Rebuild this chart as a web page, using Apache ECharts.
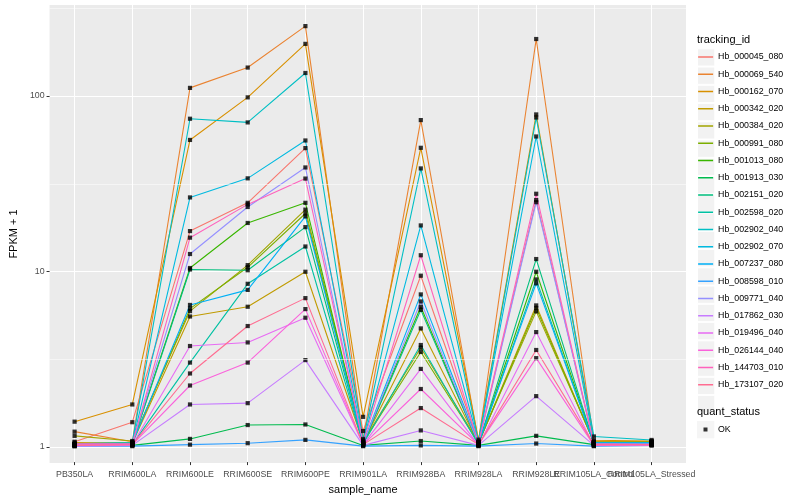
<!DOCTYPE html>
<html><head><meta charset="utf-8">
<script src="https://cdn.jsdelivr.net/npm/echarts@6/dist/echarts.min.js"></script>
<style>html,body{margin:0;padding:0;background:#fff}#c{width:800px;height:500px}</style>
</head><body><div id="c"></div>
<script>
// ---- data ----
const categories = ['PB350LA','RRIM600LA','RRIM600LE','RRIM600SE','RRIM600PE','RRIM901LA','RRIM928BA','RRIM928LA','RRIM928LE','RRIM105LA_Control','RRIM105LA_Stressed'];
const trackingIds = ['Hb_000045_080','Hb_000069_540','Hb_000162_070','Hb_000342_020','Hb_000384_020','Hb_000991_080','Hb_001013_080','Hb_001913_030','Hb_002151_020','Hb_002598_020','Hb_002902_040','Hb_002902_070','Hb_007237_080','Hb_008598_010','Hb_009771_040','Hb_017862_030','Hb_019496_040','Hb_026144_040','Hb_144703_010','Hb_173107_020'];
const colors = ['#F8766D','#EA8331','#D89000','#C09B00','#A3A500','#7CAE00','#39B600','#00BB4E','#00BF7D','#00C1A3','#00BFC4','#00BAE0','#00B0F6','#35A2FF','#9590FF','#C77CFF','#E76BF3','#FA62DB','#FF62BC','#FF6C91'];

const v_000045_080 = [1.06, 1.37, 16.9, 24.5, 50.3, 1.22, 9.4, 1.05, 25.4, 1.04, 1.03];
const v_000069_540 = [1.21, 1.06, 111, 145, 250, 1.10, 72.7, 1.06, 211, 1.06, 1.06];
const v_000162_070 = [1.38, 1.73, 56, 98, 198, 1.47, 50.5, 1.09, 78.3, 1.08, 1.07];
const v_000342_020 = [1.05, 1.04, 5.5, 6.25, 9.9, 1.05, 4.7, 1.04, 6.36, 1.05, 1.06];
const v_000384_020 = [1.145, 1.07, 5.9, 10.8, 22.4, 1.06, 3.65, 1.05, 5.88, 1.06, 1.06];
const v_000991_080 = [1.03, 1.05, 6.1, 10.5, 21.3, 1.05, 3.45, 1.04, 6.15, 1.05, 1.05];
const v_001013_080 = [1.02, 1.04, 10.4, 18.8, 24.5, 1.04, 6.25, 1.03, 9.9, 1.04, 1.05];
const v_001913_030 = [1.01, 1.01, 1.10, 1.32, 1.33, 1.01, 1.07, 1.01, 1.145, 1.02, 1.03];
const v_002151_020 = [1.02, 1.03, 10.2, 10.1, 17.8, 1.03, 6.0, 1.03, 11.7, 1.04, 1.04];
const v_002598_020 = [1.02, 1.02, 3.0, 8.45, 13.8, 1.03, 3.78, 1.02, 8.95, 1.03, 1.04];
const v_002902_040 = [1.03, 1.05, 74, 70.5, 135, 1.08, 38.5, 1.06, 75.2, 1.136, 1.085];
const v_002902_070 = [1.02, 1.04, 26.3, 33.8, 55.6, 1.06, 18.2, 1.05, 58.6, 1.05, 1.05];
const v_007237_080 = [1.02, 1.04, 6.4, 7.8, 20.5, 1.04, 7.35, 1.04, 8.5, 1.04, 1.04];
const v_008598_010 = [1.0, 1.0, 1.02, 1.04, 1.086, 1.0, 1.01, 1.0, 1.035, 1.0, 1.01];
const v_009771_040 = [1.02, 1.03, 12.5, 23.2, 39, 1.04, 6.7, 1.03, 24.7, 1.03, 1.03];
const v_017862_030 = [1.0, 1.01, 1.73, 1.76, 3.1, 1.01, 1.23, 1.01, 1.93, 1.01, 1.01];
const v_019496_040 = [1.01, 1.02, 3.73, 3.91, 5.41, 1.02, 2.76, 1.01, 4.48, 1.01, 1.02];
const v_026144_040 = [1.01, 1.02, 2.22, 3.0, 6.06, 1.02, 2.12, 1.02, 3.18, 1.01, 1.02];
const v_144703_010 = [1.03, 1.03, 15.5, 24.0, 33.7, 1.05, 12.3, 1.04, 27.6, 1.03, 1.02];
const v_173107_020 = [1.01, 1.02, 2.6, 4.85, 7.0, 1.02, 1.65, 1.02, 3.54, 1.02, 1.02];

const seriesValues = [v_000045_080, v_000069_540, v_000162_070, v_000342_020, v_000384_020, v_000991_080, v_001013_080, v_001913_030, v_002151_020, v_002598_020, v_002902_040, v_002902_070, v_007237_080, v_008598_010, v_009771_040, v_017862_030, v_019496_040, v_026144_040, v_144703_010, v_173107_020];

const yTicks = [1, 10, 100];
const yMinorBreaks = [3.1623, 31.623, 316.23];
const yMin = 0.811, yMax = 330;
const statusLabel = 'OK';

// ---- chart ----
const font = '"Liberation Sans", Arial, Helvetica, sans-serif';
const chart = echarts.init(document.getElementById('c'), null, {renderer: 'canvas'});

const lineSeries = trackingIds.map((id, k) => ({
  name: id, type: 'line', xAxisIndex: 0, yAxisIndex: 0,
  data: seriesValues[k], symbol: 'none', showSymbol: false,
  lineStyle: {color: colors[k], width: 1.1}, itemStyle: {color: colors[k]},
  emphasis: {disabled: true}, silent: true, z: 3
}));

const points = [];
seriesValues.forEach(vals => vals.forEach((v, i) => points.push([categories[i], v])));

// key icon: horizontal bar across a 15 x 17.25 box (corner specks fix the box size)
const keyLineIcon = 'path://M0,0h0.01v0.01h-0.01zM0,7.85h15v1.55h-15zM14.99,17.24h0.01v0.01h-0.01z';

const option = {
  animation: false,
  textStyle: {fontFamily: font},
  title: [
    {text: 'tracking_id', left: 697, top: 34.5, padding: 0, textStyle: {fontSize: 11, fontWeight: 'normal', color: '#000', fontFamily: font}},
    {text: 'quant_status', left: 697, top: 406, padding: 0, textStyle: {fontSize: 11, fontWeight: 'normal', color: '#000', fontFamily: font}}
  ],
  grid: [
    {left: 74.6, right: 148.4, top: 5, bottom: 37},
    {left: 40, right: 114, top: 5, bottom: 37, show: true, backgroundColor: '#EBEBEB', borderWidth: 0}
  ],
  xAxis: [
    {type: 'category', gridIndex: 0, data: categories, boundaryGap: false,
     axisLine: {show: false},
     axisTick: {show: true, length: 3, lineStyle: {color: '#333333', width: 1}},
     axisLabel: {interval: 0, color: '#4D4D4D', fontSize: 8.8, margin: 8, fontFamily: font},
     splitLine: {show: true, interval: 0, lineStyle: {color: '#FFFFFF', width: 1.07}},
     name: 'sample_name', nameLocation: 'middle', nameGap: 20,
     nameTextStyle: {color: '#000', fontSize: 11, fontFamily: font}},
    {type: 'value', gridIndex: 1, min: 0, max: 1, show: false}
  ],
  yAxis: [
    {type: 'log', gridIndex: 0, min: yMin, max: yMax, show: false},
    {type: 'log', gridIndex: 1, min: yMin, max: yMax,
     axisLine: {show: false},
     axisTick: {show: true, length: 3, customValues: yTicks, lineStyle: {color: '#333333', width: 1}},
     axisLabel: {customValues: yTicks, color: '#4D4D4D', fontSize: 8.8, margin: 5, fontFamily: font, formatter: v => String(Math.round(v))},
     splitLine: {show: true, lineStyle: {color: '#FFFFFF', width: 1.07}},
     name: 'FPKM + 1', nameLocation: 'middle', nameGap: 21,
     nameTextStyle: {color: '#000', fontSize: 11, fontFamily: font}}
  ],
  legend: [
    {orient: 'vertical', left: 697, top: 48.3, padding: 0, itemGap: 0, itemWidth: 17.25, itemHeight: 17.25,
     icon: 'rect', data: trackingIds, selectedMode: false, z: 1,
     itemStyle: {color: '#F2F2F2', borderColor: '#FFFFFF', borderWidth: 1},
     textStyle: {color: 'rgba(0,0,0,0)', fontSize: 8.8, fontFamily: font}},
    {orient: 'vertical', left: 698.1, top: 48.3, padding: 0, itemGap: 0, itemWidth: 15, itemHeight: 17.25,
     icon: keyLineIcon, data: trackingIds, selectedMode: false, z: 2,
     itemStyle: {borderWidth: 0},
     textStyle: {color: '#000', fontSize: 8.8, fontFamily: font}},
    {orient: 'vertical', left: 697, top: 421, padding: 0, itemWidth: 17.25, itemHeight: 17.25,
     icon: 'rect', data: [statusLabel], selectedMode: false, z: 1,
     itemStyle: {color: '#F2F2F2'},
     textStyle: {color: 'rgba(0,0,0,0)', fontSize: 8.8, fontFamily: font}},
    {orient: 'vertical', left: 703.5, top: 424.5, padding: 0, itemWidth: 4, itemHeight: 4,
     icon: 'rect', data: [statusLabel], selectedMode: false, z: 2,
     textStyle: {color: '#000', fontSize: 8.8, lineHeight: 10, padding: [0, 0, 0, 5.5], fontFamily: font}}
  ],
  series: [
    {type: 'line', xAxisIndex: 1, yAxisIndex: 1, data: [], silent: true, z: 1,
     markLine: {silent: true, symbol: 'none', animation: false, label: {show: false},
       lineStyle: {color: '#FFFFFF', width: 0.53, type: 'solid'},
       emphasis: {disabled: true},
       data: yMinorBreaks.map(v => ({yAxis: v}))}},
    ...lineSeries,
    {name: statusLabel, type: 'scatter', xAxisIndex: 0, yAxisIndex: 0, data: points,
     symbol: 'rect', symbolSize: 4.2, itemStyle: {color: '#000000'}, silent: true, z: 4}
  ]
};
chart.setOption(option);
</script></body></html>
